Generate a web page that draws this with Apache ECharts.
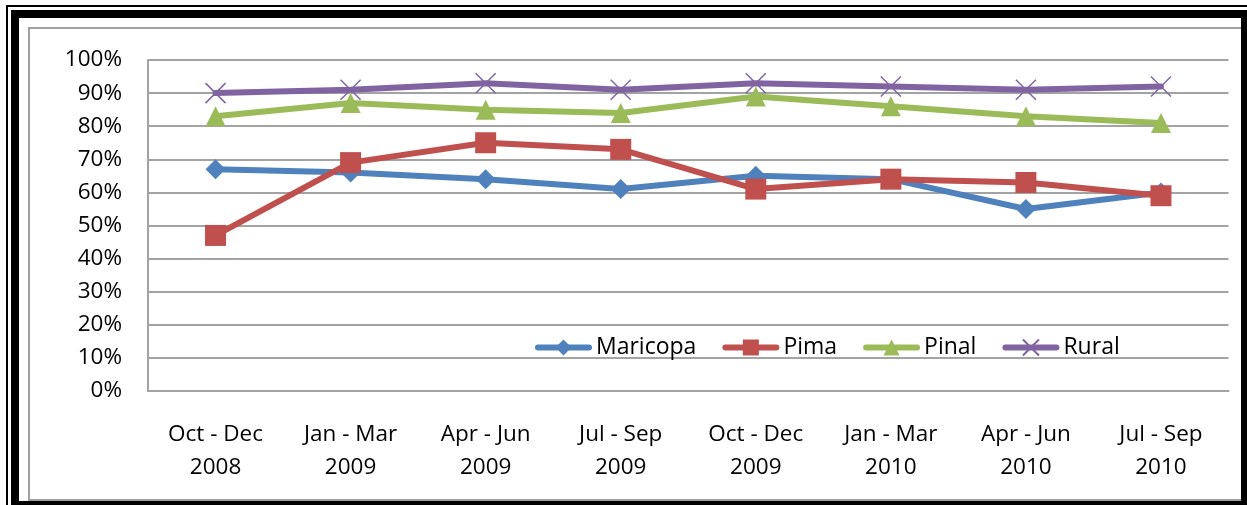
<!DOCTYPE html>
<html>
<head>
<meta charset="utf-8">
<script src="https://cdn.jsdelivr.net/npm/echarts@6/dist/echarts.min.js"></script>
<style>
  html, body { margin: 0; padding: 0; background: #fff; }
  #chart { width: 1247px; height: 505px; }
</style>
</head>
<body>
<div id="chart"></div>
<script>
// quarters on the x axis
const quarters = ['Oct - Dec\n2008', 'Jan - Mar\n2009', 'Apr - Jun\n2009', 'Jul - Sep\n2009',
                  'Oct - Dec\n2009', 'Jan - Mar\n2010', 'Apr - Jun\n2010', 'Jul - Sep\n2010'];

// percentages per county group
const maricopa = [67, 66, 64, 61, 65, 64, 55, 60];
const pima     = [47, 69, 75, 73, 61, 64, 63, 59];
const pinal    = [83, 87, 85, 84, 89, 86, 83, 81];
const rural    = [90, 91, 93, 91, 93, 92, 91, 92];

const FONT = '"Open Sans", "Liberation Sans", sans-serif';
const GRID = '#a3a3a3';

const chart = echarts.init(document.getElementById('chart'));

function makeSeries(name, data, color, symbol, size) {
  return {
    name: name,
    type: 'line',
    data: data,
    symbol: symbol,
    symbolSize: size,
    lineStyle: { color: color, width: 6, cap: 'round', join: 'round' },
    itemStyle: { color: color },
    emphasis: { disabled: true },
    z: 3
  };
}

chart.setOption({
  animation: false,
  backgroundColor: '#fff',
  textStyle: { fontFamily: FONT },
  graphic: [
    // gray inner frame
    { type: 'rect', shape: { x: 29, y: 28, width: 1215, height: 472 },
      style: { fill: 'none', stroke: '#a0a0a0', lineWidth: 2 }, z: 100 },
    // thin outer black line
    { type: 'rect', shape: { x: 7, y: 6, width: 1246, height: 506 },
      style: { fill: 'none', stroke: '#000', lineWidth: 2 }, z: 101 },
    // thick black frame
    { type: 'rect', shape: { x: 15, y: 14, width: 1230, height: 491 },
      style: { fill: 'none', stroke: '#000', lineWidth: 8 }, z: 101 }
  ],
  grid: { left: 148, right: 18.5, top: 60, bottom: 114 },
  legend: {
    left: 530,
    top: 331,
    itemWidth: 51,
    itemHeight: 20,
    itemGap: 26,
    lineStyle: { width: 6, cap: 'round' },
    textStyle: { fontFamily: FONT, fontSize: 23, color: '#000', padding: [0, 0, 0, 2] },
    data: ['Maricopa', 'Pima', 'Pinal', 'Rural']
  },
  xAxis: {
    type: 'category',
    data: quarters,
    boundaryGap: true,
    axisLine: { lineStyle: { color: GRID, width: 2 } },
    axisTick: { show: false },
    axisLabel: { fontFamily: FONT, fontSize: 22.5, color: '#000', margin: 27, lineHeight: 33, interval: 0 }
  },
  yAxis: {
    type: 'value',
    min: 0,
    max: 100,
    interval: 10,
    axisLine: { show: true, lineStyle: { color: GRID, width: 2 } },
    axisTick: { show: false },
    splitLine: { lineStyle: { color: GRID, width: 2 } },
    axisLabel: { fontFamily: FONT, fontSize: 22.5, color: '#000', margin: 26, formatter: '{value}%' }
  },
  series: [
    makeSeries('Maricopa', maricopa, '#4f81bd', 'diamond', 20),
    makeSeries('Pima', pima, '#c0504d', 'rect', 21),
    makeSeries('Pinal', pinal, '#9bbb59', 'triangle', 20),
    {
      ...makeSeries('Rural', rural, '#8064a2', 'path://M0,0 L10,10 M10,0 L0,10', 20),
      itemStyle: { color: 'none', borderColor: '#8064a2', borderWidth: 1.5 }
    }
  ]
});
</script>
</body>
</html>
